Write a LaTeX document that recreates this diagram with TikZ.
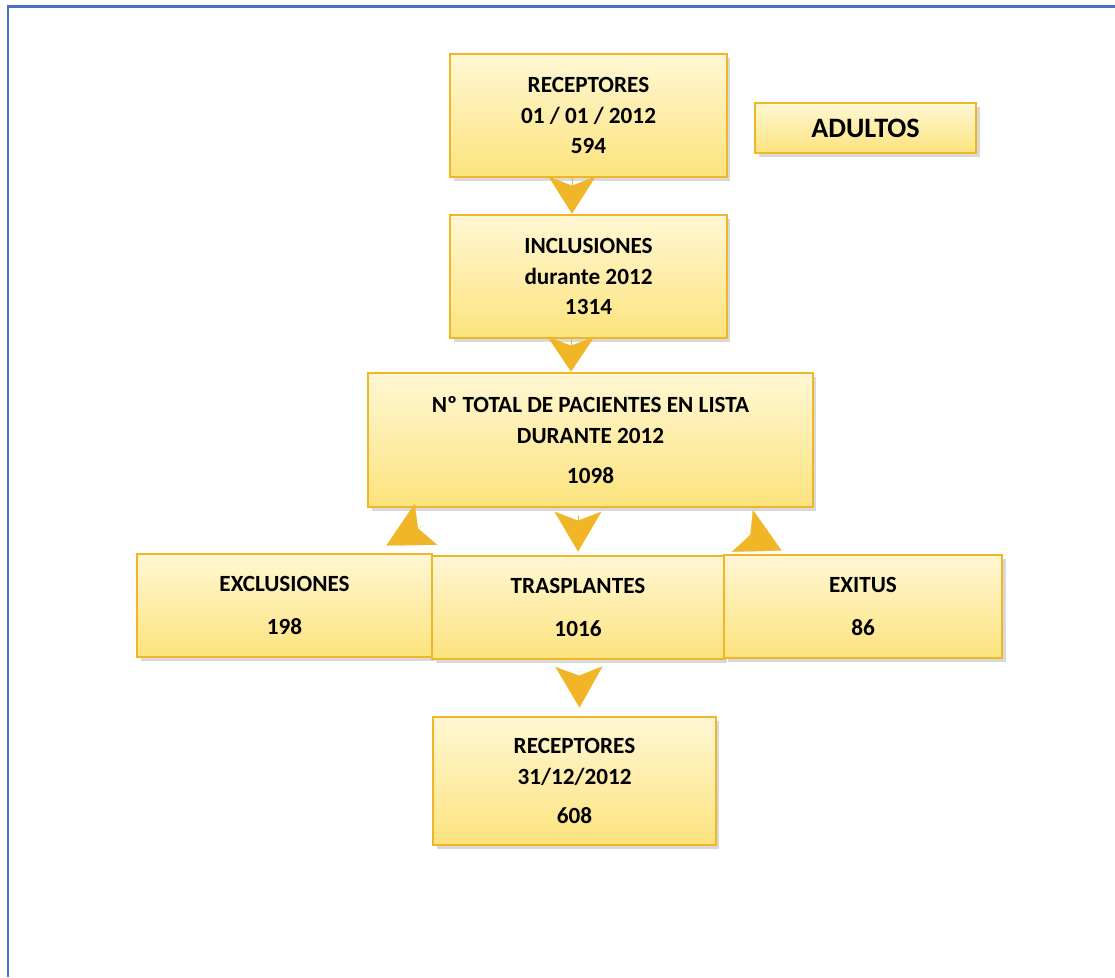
\documentclass[tikz,border=0pt]{standalone}
\usepackage{fontspec}
\setmainfont{Carlito}
\usetikzlibrary{arrows.meta,shadows}

\definecolor{boxline}{RGB}{241,182,40}
\definecolor{boxtop}{RGB}{255,247,212}
\definecolor{boxbottom}{RGB}{252,227,125}
\definecolor{frameblue}{RGB}{72,112,200}

\begin{document}
\begin{tikzpicture}[
                        x=0.02cm,
                        y=-0.02cm,
                        font=\bfseries\fontsize{13.2}{17.5}\selectfont,
                        line width=1.6pt,
                        chev/.style={boxline,line width=0.1pt,-{Stealth[length=#1,width=0.94cm,inset=0.18cm]}}
                    ]
                    \tikzstyle{box}=[draw=boxline,top color=boxtop,bottom color=boxbottom,
                                     drop shadow={opacity=0.3,shadow xshift=2pt,shadow yshift=-2.5pt},
                                     align=center,inner sep=0pt]

                    \useasboundingbox (0,0) rectangle (1115,977);
                    \draw[frameblue,line width=1.2pt] (8,977) -- (8,6.5) -- (1115,6.5);

                    \node[box,minimum width=5.54cm,minimum height=2.46cm] (rec1)   at (588.5,115.5) {RECEPTORES\\01 / 01 / 2012\\594};
                    \node[box,minimum width=4.42cm,minimum height=1.00cm] (adult)  at (865.5,128)   {\fontsize{16}{18}\selectfont ADULTOS};
                    \node[box,minimum width=5.54cm,minimum height=2.46cm] (incl)   at (588.5,276.5) {INCLUSIONES\\durante 2012\\1314};
                    \node[box,minimum width=8.90cm,minimum height=2.68cm] (total)  at (590.5,440)   {Nº TOTAL DE PACIENTES EN LISTA\\DURANTE 2012\\[5pt]1098};
                    \node[box,minimum width=5.90cm,minimum height=2.06cm] (excl)   at (284.5,605.5) {EXCLUSIONES\\[6.5pt]198};
                    \node[box,minimum width=5.84cm,minimum height=2.06cm] (trasp)  at (578,607.5)   {TRASPLANTES\\[6.5pt]1016};
                    \node[box,minimum width=5.56cm,minimum height=2.06cm] (exitus) at (863,606.5)   {EXITUS\\[6.5pt]86};
                    \node[box,minimum width=5.66cm,minimum height=2.56cm] (rec2)   at (574.5,781)   {RECEPTORES\\31/12/2012\\[5pt]608};

                    % chevrons between the boxes
                    \draw[chev=0.74cm] ([xshift=-0.33cm]rec1.south) -- ([xshift=-0.33cm]rec1.south |- incl.north);
                    \draw[chev=0.70cm] ([xshift=-0.35cm]incl.south) -- ([xshift=-0.35cm]incl.south |- total.north);
                    \draw[chev=0.80cm] ([shift={(-12.5,7)}]total.south) -- ([shift={(0,-3)}]trasp.north);
                    \draw[chev=0.82cm] ([shift={(1,9)}]trasp.south) -- ([shift={(5,-8)}]rec2.north);
                    \draw[chev=0.90cm] ([shift={(57,17)}]total.south west) -- ([shift={(-47,-7)}]excl.north east);
                    \draw[chev=0.88cm] ([shift={(-69,24)}]total.south east) -- ([shift={(59,-3)}]exitus.north west);

                \end{tikzpicture}
\end{document}
